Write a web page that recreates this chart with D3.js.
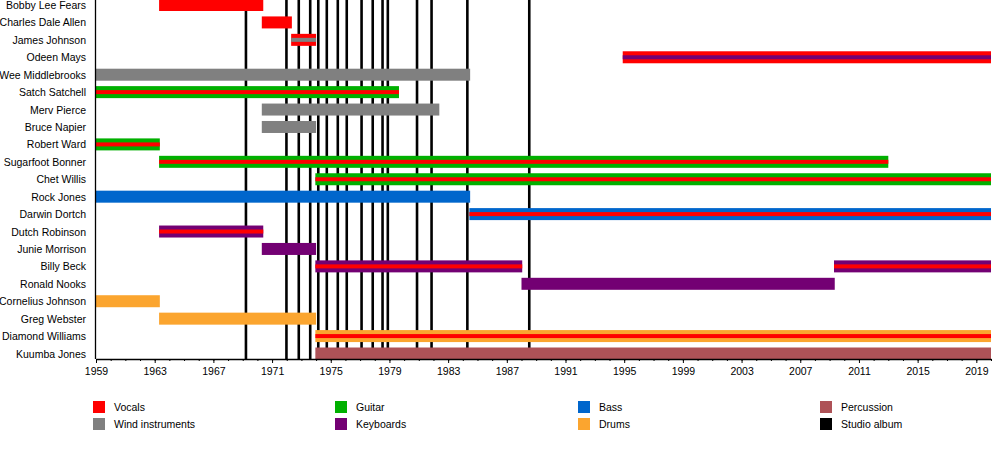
<!DOCTYPE html>
<html>
<head>
<meta charset="utf-8">
<script src="https://cdn.jsdelivr.net/npm/d3@7"></script>
<style>
  body { margin: 0; background: #fff; }
  svg { display: block; font-family: "Liberation Sans", Arial, sans-serif; }
</style>
</head>
<body>
<svg id="chart" width="1000" height="458"></svg>
<script>
// members, top to bottom
var members = [
  "Bobby Lee Fears", "Charles Dale Allen", "James Johnson", "Odeen Mays",
  "Wee Middlebrooks", "Satch Satchell", "Merv Pierce", "Bruce Napier",
  "Robert Ward", "Sugarfoot Bonner", "Chet Willis", "Rock Jones",
  "Darwin Dortch", "Dutch Robinson", "Junie Morrison", "Billy Beck",
  "Ronald Nooks", "Cornelius Johnson", "Greg Webster", "Diamond Williams",
  "Kuumba Jones"
];

// one entry per membership period: member, from, till, main role, second role
var periodMember = [
  "Bobby Lee Fears", "Charles Dale Allen", "James Johnson", "Odeen Mays",
  "Wee Middlebrooks", "Satch Satchell", "Merv Pierce", "Bruce Napier",
  "Robert Ward", "Sugarfoot Bonner", "Chet Willis", "Rock Jones",
  "Darwin Dortch", "Dutch Robinson", "Junie Morrison", "Billy Beck",
  "Billy Beck", "Ronald Nooks", "Cornelius Johnson", "Greg Webster",
  "Diamond Williams", "Kuumba Jones"
];
var periodFrom = [
  1963.3, 1970.3, 1972.3, 1994.9,
  1959, 1959, 1970.3, 1970.3,
  1959, 1963.3, 1973.95, 1959,
  1984.45, 1963.3, 1970.3, 1973.95,
  2009.3, 1988, 1959, 1963.3,
  1973.95, 1973.95
];
var periodTill = [
  1970.4, 1972.35, 1974, 2020,
  1984.5, 1979.65, 1982.4, 1974,
  1963.35, 2013, 2020, 1984.5,
  2020, 1970.4, 1974, 1988.05,
  2020, 2009.35, 1963.35, 1974,
  2020, 2020
];
var periodRole = [
  "Vocals", "Vocals", "Vocals", "Vocals",
  "Wind instruments", "Guitar", "Wind instruments", "Wind instruments",
  "Guitar", "Guitar", "Guitar", "Bass",
  "Bass", "Keyboards", "Keyboards", "Keyboards",
  "Keyboards", "Keyboards", "Drums", "Drums",
  "Drums", "Percussion"
];
var periodRole2 = [
  null, null, "Wind instruments", "Keyboards",
  null, "Vocals", null, null,
  "Vocals", "Vocals", "Vocals", null,
  "Vocals", "Vocals", null, "Vocals",
  "Vocals", null, null, null,
  "Vocals", null
];

// studio album release dates
var albums = [
  1969.22, 1971.98, 1972.82, 1973.6, 1974.15, 1974.73, 1975.48, 1976.09,
  1977.1, 1977.86, 1978.53, 1978.89, 1980.88, 1981.87, 1984.31, 1988.53
];

var legendLabels = [
  "Vocals", "Wind instruments", "Guitar", "Keyboards",
  "Bass", "Drums", "Percussion", "Studio album"
];
var legendColors = [
  "#ff0000", "#808080", "#00b000", "#730073",
  "#0066cc", "#fba52f", "#ae5257", "#000000"
];

var color = d3.scaleOrdinal().domain(legendLabels).range(legendColors);

var svg = d3.select("#chart");
var axisY = 359;

var x = d3.scaleLinear().domain([1959, 2020]).range([96, 991]);
var y = d3.scalePoint().domain(members).range([5, 353.5]);

// album lines behind the bars
svg.append("g").selectAll("line")
  .data(albums)
  .enter().append("line")
  .attr("x1", function(d) { return x(d); })
  .attr("x2", function(d) { return x(d); })
  .attr("y1", 0)
  .attr("y2", axisY)
  .attr("stroke", color("Studio album"))
  .attr("stroke-width", 2.6);

var periods = periodMember.map(function(m, i) {
  return { m: m, a: periodFrom[i], b: periodTill[i], r: periodRole[i], r2: periodRole2[i] };
});

var bars = svg.append("g");
bars.selectAll("rect.main")
  .data(periods)
  .enter().append("rect")
  .attr("class", "main")
  .attr("x", function(d) { return x(d.a); })
  .attr("width", function(d) { return x(d.b) - x(d.a); })
  .attr("y", function(d) { return y(d.m) - 6; })
  .attr("height", 12)
  .attr("fill", function(d) { return color(d.r); });

bars.selectAll("rect.inner")
  .data(periods.filter(function(d) { return d.r2; }))
  .enter().append("rect")
  .attr("class", "inner")
  .attr("x", function(d) { return x(d.a); })
  .attr("width", function(d) { return x(d.b) - x(d.a); })
  .attr("y", function(d) { return y(d.m) - 2; })
  .attr("height", 4)
  .attr("fill", function(d) { return color(d.r2); });

// names
svg.append("g").selectAll("text")
  .data(members)
  .enter().append("text")
  .attr("x", 86)
  .attr("y", function(d) { return y(d) + 4; })
  .attr("text-anchor", "end")
  .attr("font-size", 10.5)
  .attr("fill", "#000")
  .text(function(d) { return d; });

// axes
var minor = d3.range(1959, 2021);
var major = d3.range(1959, 2020, 4);

svg.append("g")
  .attr("transform", "translate(0," + axisY + ")")
  .call(d3.axisBottom(x).tickValues(minor).tickSize(2).tickFormat("").tickSizeOuter(0))
  .call(function(g) { g.select(".domain").attr("stroke-width", 1.3); });

var ax = svg.append("g")
  .attr("transform", "translate(0," + axisY + ")")
  .call(d3.axisBottom(x).tickValues(major).tickSize(4).tickFormat(d3.format("d")).tickSizeOuter(0));
ax.select(".domain").remove();
ax.selectAll("text")
  .attr("font-family", "Liberation Sans, Arial, sans-serif")
  .attr("font-size", 10.5)
  .attr("dy", "0.9em")
  .attr("fill", "#000");

svg.append("line")
  .attr("x1", x(1959) - 0.5).attr("x2", x(1959) - 0.5)
  .attr("y1", 0).attr("y2", axisY)
  .attr("stroke", "#000").attr("stroke-width", 1.3);

// legend: two rows, four columns
var colX = [93, 335, 578, 820];
var lg = svg.append("g").selectAll("g")
  .data(legendLabels)
  .enter().append("g")
  .attr("transform", function(d, i) {
    return "translate(" + colX[Math.floor(i / 2)] + "," + (401 + (i % 2) * 17) + ")";
  });
lg.append("rect")
  .attr("width", 12).attr("height", 12)
  .attr("fill", function(d) { return color(d); });
lg.append("text")
  .attr("x", 21).attr("y", 10)
  .attr("font-size", 10.5)
  .attr("fill", "#000")
  .text(function(d) { return d; });
</script>
</body>
</html>
